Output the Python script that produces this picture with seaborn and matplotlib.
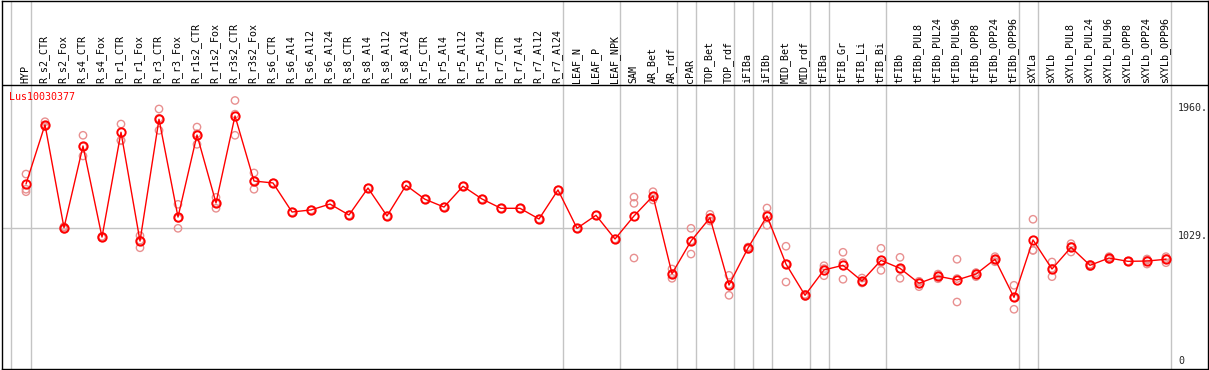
import numpy as np
import pandas as pd
import matplotlib
matplotlib.use("Agg")
import matplotlib.pyplot as plt
import seaborn as sns

# ---------------- data ----------------
gene = "Lus10030377"
categories = [
    "HYP", "R_s2_CTR", "R_s2_Fox", "R_s4_CTR", "R_s4_Fox", "R_r1_CTR", "R_r1_Fox",
    "R_r3_CTR", "R_r3_Fox", "R_r1s2_CTR", "R_r1s2_Fox", "R_r3s2_CTR", "R_r3s2_Fox",
    "R_s6_CTR", "R_s6_Al4", "R_s6_Al12", "R_s6_Al24", "R_s8_CTR", "R_s8_Al4",
    "R_s8_Al12", "R_s8_Al24", "R_r5_CTR", "R_r5_Al4", "R_r5_Al12", "R_r5_Al24",
    "R_r7_CTR", "R_r7_Al4", "R_r7_Al12", "R_r7_Al24", "LEAF_N", "LEAF_P", "LEAF_NPK",
    "SAM", "AR_Bet", "AR_rdf", "cPAR", "TOP_Bet", "TOP_rdf", "iFIBa", "iFIBb",
    "MID_Bet", "MID_rdf", "tFIBa", "tFIB_Gr", "tFIB_Li", "tFIB_Bi", "tFIBb",
    "tFIBb_PUL8", "tFIBb_PUL24", "tFIBb_PUL96", "tFIBb_OPP8", "tFIBb_OPP24",
    "tFIBb_OPP96", "sXYLa", "sXYLb", "sXYLb_PUL8", "sXYLb_PUL24", "sXYLb_PUL96",
    "sXYLb_OPP8", "sXYLb_OPP24", "sXYLb_OPP96",
]
mean_values = [
    1350, 1783, 1031, 1628, 963, 1728, 934, 1823, 1109, 1708, 1212, 1847, 1372,
    1358, 1146, 1161, 1204, 1124, 1321, 1117, 1341, 1239, 1182, 1334, 1241,
    1173, 1173, 1095, 1307, 1027, 1122, 949,
    1117, 1263, 696, 934, 1104, 613, 883, 1117, 766, 538,
    723, 757, 642, 793, 735, 626, 677, 650, 693, 801, 523,
    942, 730, 888, 757, 810, 786, 788, 801,
]
rep1 = [
    1423, 1805, 1039, 1706, 958, 1788, 973, 1898, 1202, 1766, 1253, 1960, 1431,
    1358, 1146, 1161, 1204, 1124, 1321, 1117, 1341, 1239, 1182, 1334, 1241,
    1173, 1173, 1095, 1307, 1027, 1122, 949,
    1255, 1294, 730, 1027, 1129, 684, 874, 1175, 896, 530,
    754, 852, 664, 881, 815, 637, 693, 801, 703, 820, 611,
    1093, 781, 915, 761, 820, 786, 803, 820,
]
rep2 = [
    1312, 1769, 1020, 1555, 963, 1670, 885, 1742, 1027, 1640, 1173, 1706, 1312,
    np.nan, np.nan, np.nan, np.nan, np.nan, np.nan, np.nan, np.nan, np.nan, np.nan,
    np.nan, np.nan, np.nan, np.nan, np.nan, np.nan, np.nan, np.nan, np.nan,
    1209, 1234, 662, 839, 1080, 538, 883, 1049, 635, 545,
    681, 655, 628, 720, 662, 601, 659, 489, 674, 783, 436,
    866, 674, 854, 747, 801, 786, 766, 776,
]
rep3 = [
    1294, 1778, 1034, 1623, 968, 1666, 940, 1830, 1100, 1718, 1210, 1860, 1372,
    np.nan, np.nan, np.nan, np.nan, np.nan, np.nan, np.nan, np.nan, np.nan, np.nan,
    np.nan, np.nan, np.nan, np.nan, np.nan, np.nan, np.nan, np.nan, np.nan,
    810, 1260, 696, 936, 1104, 617, 890, 1127, 766, 538,
    733, 776, 635, 778, 728, 640, 679, 660, 702, 800, 522,
    867, 735, 895, 763, 809, 786, 795, 807,
]
group_ends = ["HYP", "R_r7_Al24", "LEAF_NPK", "AR_rdf", "cPAR", "TOP_rdf", "iFIBa",
              "iFIBb", "MID_rdf", "tFIBa", "tFIB_Bi", "tFIBb_OPP96", "sXYLa", "sXYLb_OPP96"]
y_tick_values = [1960, 1029, 0]
y_tick_labels = ["1960.", "1029.", "0"]

# ---------------- layout helpers ----------------
W, H, DPI = 1209, 370, 100
BASE_PX = 369.0       # pixel row of value 0
SCALE = 0.137         # pixels per unit
X0_PX, STEP_PX = 26.0, 19.0

def v_at(px):
    return (BASE_PX - px) / SCALE

def i_at(px):
    return (px - X0_PX) / STEP_PX

n = len(categories)
idx = np.arange(n)
df_mean = pd.DataFrame({"pos": idx, "value": mean_values})
df_rep = pd.DataFrame({
    "pos": np.concatenate([idx, idx, idx]),
    "value": np.concatenate([rep1, rep2, rep3]).astype(float),
}).dropna()

sns.set_style("white")
plt.rcParams["font.family"] = ["DejaVu Sans Mono", "DejaVu Sans"]

fig = plt.figure(figsize=(W / DPI, H / DPI), dpi=DPI)
left_px, right_px, top_px, bot_px = 2.0, 1208.0, 0.5, 369.0
ax = fig.add_axes([left_px / W, (H - bot_px) / H, (right_px - left_px) / W, (bot_px - top_px) / H])
ax.set_xlim(i_at(left_px), i_at(right_px))
ax.set_ylim(v_at(bot_px), v_at(top_px))

grey = "#c4c4c4"
# group separators
sep_positions = [i_at(10.7)] + [categories.index(c) + 0.24 for c in group_ends]
for s in sep_positions:
    ax.axvline(s, color=grey, lw=1.0, zorder=0)
ax.hlines(1029, i_at(left_px), categories.index("sXYLb_OPP96") + 0.24, color=grey, lw=1.0, zorder=0)
# header separator
ax.axhline(v_at(85), color="black", lw=1.0, zorder=1)

# replicates
sns.scatterplot(data=df_rep, x="pos", y="value", ax=ax, marker="o", s=28,
                facecolors="none", edgecolor="#e89090", linewidth=1.0, zorder=2, legend=False)
# mean line
sns.lineplot(data=df_mean, x="pos", y="value", ax=ax, color="#ff0000", lw=1.0,
             marker="o", markersize=6, markerfacecolor="none", markeredgecolor="#ff0000",
             markeredgewidth=1.4, zorder=3, legend=False)

# category labels
for i, c in enumerate(categories):
    ax.text(i - 0.05, v_at(83), c, rotation=90, ha="center", va="bottom",
            fontsize=7.2, color="black", zorder=4)

# gene name
ax.text(i_at(9.3), v_at(97), gene, color="#ff0000", fontsize=7.2, ha="left", va="center")

# y labels on the right
for v, lab in zip(y_tick_values, y_tick_labels):
    if v == 0:
        ax.text(i_at(1178), v_at(366.5), lab, fontsize=7.2, ha="left", va="bottom")
    else:
        ax.text(i_at(1178), v - 2.5 / SCALE, lab, fontsize=7.2, ha="left", va="top")

ax.set_xlabel("")
ax.set_ylabel("")
ax.set_xticks([])
ax.set_yticks([])
for sp in ax.spines.values():
    sp.set_color("black")
    sp.set_linewidth(1.0)

fig.savefig("out.png", dpi=DPI)
